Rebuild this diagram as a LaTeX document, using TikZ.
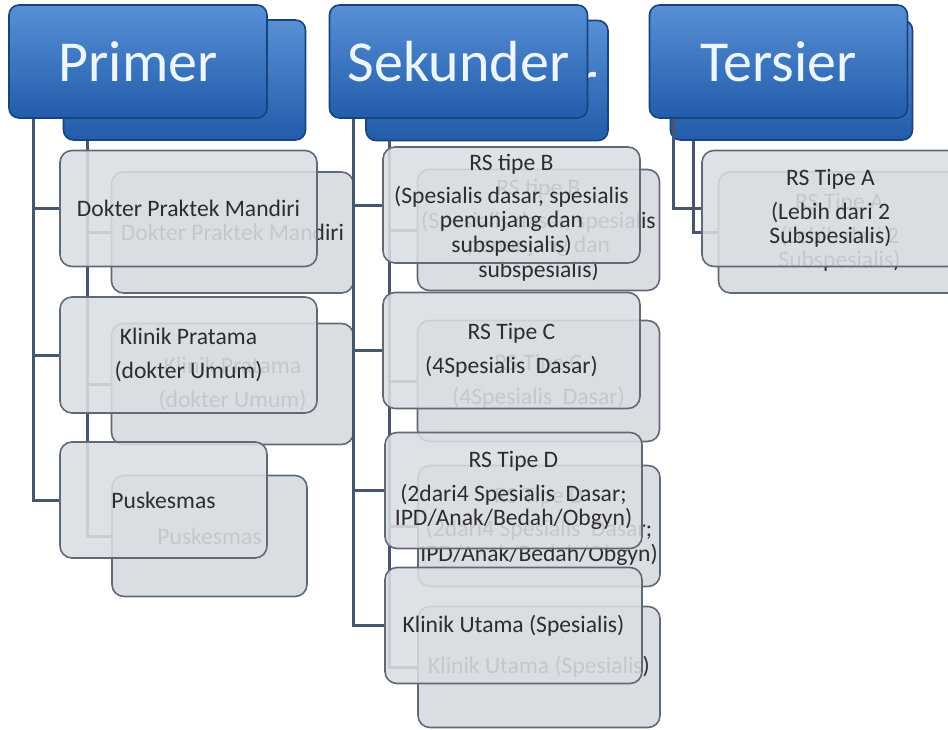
\documentclass[tikz,border=0pt]{standalone}
\usepackage{fontspec}
\setmainfont{Carlito}
\usetikzlibrary{positioning}

\definecolor{headtop}{RGB}{88,144,214}
\definecolor{headbot}{RGB}{34,92,170}
\definecolor{headline}{RGB}{26,66,126}
\definecolor{headtext}{RGB}{236,246,252}
\definecolor{boxfill}{RGB}{218,221,226}
\definecolor{boxline}{RGB}{96,106,118}
\definecolor{boxtext}{RGB}{45,45,45}
\definecolor{linkcol}{RGB}{70,86,110}

\begin{document}
\begin{tikzpicture}[
x=0.5pt, y=-0.5pt,
head/.style={rectangle, draw=headline, line width=0.8pt, rounded corners=5pt, top color=headtop, bottom color=headbot, text=headtext, font=\fontsize{29}{32}\selectfont, inner sep=0pt},
hfront/.style={head, minimum width=129pt, minimum height=56.5pt},
hback/.style={head, minimum width=121pt, minimum height=60pt},
box/.style={rectangle, draw=boxline, line width=0.8pt, rounded corners=6pt, fill=boxfill, text=boxtext, align=center, font=\fontsize{11.8}{12.2}\selectfont, inner sep=0pt},
cfront/.style={box, minimum width=128.5pt, minimum height=58pt, fill opacity=0.88, text opacity=1},
cback/.style={box, minimum width=121pt, minimum height=60.5pt},
link/.style={draw=linkcol, line width=1.5pt}
]
\useasboundingbox (0,0) rectangle (948,729);

% lapisan belakang
\node[hback] (primer_b) at (184.5,80) {Primer};
\node[hback] (sekunder_b) at (487,80.5) {Sekunder};
\node[hback] (tersier_b) at (791.5,80) {Tersier};

\node[cback] (dpm_b) at (232.5,232.5) {Dokter Praktek Mandiri};
\node[cback] (kp_b) at (232.5,384) {Klinik Pratama\\[5pt](dokter Umum)};
\node[cback, minimum width=97.5pt] (pusk_b) at (209.5,536) {Puskesmas};
\node[cback] (rsb_b) at (538.5,230) {RS tipe B\\[4.5pt](Spesialis dasar, spesialis\\penunjang dan\\subspesialis)};
\node[cback] (rsc_b) at (538.5,381) {RS Tipe C\\[5pt](4Spesialis~ Dasar)};
\node[cback] (rsd_b) at (539,526) {RS Tipe D\\[4.5pt](2dari4 Spesialis~ Dasar;\\IPD/Anak/Bedah/Obgyn)};
\node[cback] (ku_b) at (539,667) {Klinik Utama (Spesialis)};
\node[cback] (rsa_b) at (839.5,232.5) {RS Tipe A\\[4.5pt](Lebih dari 2\\Subspesialis)};

\draw[link] ([xshift=12.5pt]primer_b.south west) |- (dpm_b.west);
\draw[link] ([xshift=12.5pt]primer_b.south west) |- (kp_b.west);
\draw[link] ([xshift=12.5pt]primer_b.south west) |- (pusk_b.west);
\draw[link] ([xshift=12pt]sekunder_b.south west) |- (rsb_b.west);
\draw[link] ([xshift=12pt]sekunder_b.south west) |- (rsc_b.west);
\draw[link] ([xshift=12pt]sekunder_b.south west) |- (rsd_b.west);
\draw[link] ([xshift=12pt]sekunder_b.south west) |- (ku_b.west);
\draw[link] ([xshift=12pt]tersier_b.south west) |- (rsa_b.west);

% lapisan depan
\node[hfront] (primer) at (138,61.5) {Primer};
\node[hfront] (sekunder) at (458.5,61.5) {Sekunder};
\node[hfront] (tersier) at (778.5,61.5) {Tersier};

\node[cfront] (dpm) at (188.5,208.5) {Dokter Praktek Mandiri};
\node[cfront] (kp) at (188.5,355) {Klinik Pratama\\[5pt](dokter Umum)};
\node[cfront, minimum width=103.5pt] (pusk) at (163.5,500) {Puskesmas};
\node[cfront] (rsb) at (511.5,205) {RS tipe B\\[4.5pt](Spesialis dasar, spesialis\\penunjang dan\\subspesialis)};
\node[cfront] (rsc) at (511.5,350.5) {RS Tipe C\\[5pt](4Spesialis~ Dasar)};
\node[cfront] (rsd) at (513.5,490.5) {RS Tipe D\\[4.5pt](2dari4 Spesialis~ Dasar;\\IPD/Anak/Bedah/Obgyn)};
\node[cfront] (ku) at (513.5,625.5) {Klinik Utama (Spesialis)};
\node[cfront] (rsa) at (830.5,208.5) {RS Tipe A\\[4.5pt](Lebih dari 2\\Subspesialis)};

\draw[link] ([xshift=12.5pt]primer.south west) |- (dpm.west);
\draw[link] ([xshift=12.5pt]primer.south west) |- (kp.west);
\draw[link] ([xshift=12.5pt]primer.south west) |- (pusk.west);
\draw[link] ([xshift=12.5pt]sekunder.south west) |- (rsb.west);
\draw[link] ([xshift=12.5pt]sekunder.south west) |- (rsc.west);
\draw[link] ([xshift=12.5pt]sekunder.south west) |- (rsd.west);
\draw[link] ([xshift=12.5pt]sekunder.south west) |- (ku.west);
\draw[link] ([xshift=12.5pt]tersier.south west) |- (rsa.west);

\end{tikzpicture}
\end{document}
